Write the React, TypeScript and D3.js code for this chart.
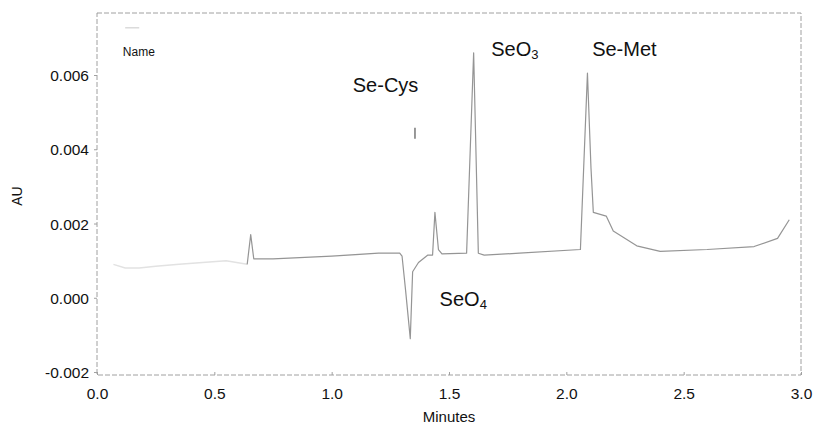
import React, { useEffect, useRef } from 'react';
import * as d3 from 'd3';

// Chromatogram trace (minutes, AU)
const earlyTimes = [0.07, 0.12, 0.18, 0.25, 0.35, 0.45, 0.55, 0.64];
const earlyValues = [0.0009, 0.0008, 0.0008, 0.00085, 0.0009, 0.00095, 0.001, 0.0009];

const traceTimes = [
  0.64, 0.655, 0.668, 0.75, 1.0, 1.2, 1.29, 1.3, 1.315, 1.335, 1.345, 1.37, 1.41, 1.43,
  1.44, 1.455, 1.47, 1.575, 1.605, 1.625, 1.65, 1.8, 2.06, 2.09, 2.105, 2.115, 2.17,
  2.2, 2.3, 2.4, 2.6, 2.8, 2.9, 2.95,
];
const traceValues = [
  0.0009, 0.0017, 0.00105, 0.00105, 0.00112, 0.0012, 0.0012, 0.00112, 0.0002, -0.0011,
  0.0007, 0.00095, 0.00115, 0.00115, 0.0023, 0.0013, 0.00118, 0.0012, 0.0066, 0.0012,
  0.00115, 0.0012, 0.0013, 0.00605, 0.0035, 0.0023, 0.0022, 0.0018, 0.0014, 0.00125,
  0.0013, 0.00138, 0.0016, 0.0021,
];

// small truncated mark above the Se-Cys position
const cysMarkTimes = [1.355, 1.355];
const cysMarkValues = [0.00428, 0.00458];

const xTicks = [0.0, 0.5, 1.0, 1.5, 2.0, 2.5, 3.0];
const yTicks = [-0.002, 0.0, 0.002, 0.004, 0.006];

// peak labels: [text, subscript, minutes, AU]
const peakLabels: [string, string, number, number][] = [
  ['Se-Cys', '', 1.09, 0.00555],
  ['SeO', '3', 1.68, 0.00652],
  ['Se-Met', '', 2.11, 0.00652],
  ['SeO', '4', 1.46, -0.00023],
];

const App = () => {
  const ref = useRef<SVGSVGElement>(null);

  useEffect(() => {
    const width = 813;
    const height = 426;
    const margin = { top: 13, right: 12, bottom: 51, left: 97 };
    const w = width - margin.left - margin.right;
    const h = height - margin.top - margin.bottom;

    const svg = d3.select(ref.current);
    svg.selectAll('*').remove();

    const g = svg.append('g').attr('transform', `translate(${margin.left},${margin.top})`);

    const x = d3.scaleLinear().domain([0, 3]).range([0, w]);
    const y = d3.scaleLinear().domain([-0.00208, 0.00767]).range([h, 0]);

    const frameColor = '#a0a0a0';
    const font = 'Liberation Sans, Arial, sans-serif';

    // frame (scanned, dashed look)
    g.append('rect')
      .attr('x', 0)
      .attr('y', 0)
      .attr('width', w)
      .attr('height', h)
      .attr('fill', 'none')
      .attr('stroke', frameColor)
      .attr('stroke-width', 1)
      .attr('stroke-dasharray', '5,2');

    // axes
    const fmtY = (d: number) => d3.format('.3f')(d).replace('\u2212', '-');
    const yAxis = g.append('g')
      .call(d3.axisLeft(y).tickValues(yTicks).tickFormat(fmtY as any).tickSize(3));
    const xAxis = g.append('g')
      .attr('transform', `translate(0,${h})`)
      .call(d3.axisBottom(x).tickValues(xTicks).tickFormat(d3.format('.1f') as any).tickSize(-3));

    [xAxis, yAxis].forEach(a => {
      a.select('.domain').remove();
      a.selectAll('line').attr('stroke', frameColor);
      a.selectAll('text')
        .attr('fill', '#111')
        .style('font-family', font)
        .style('font-size', '15.5px');
    });
    yAxis.selectAll('text').attr('x', -8).attr('dy', '0.36em');
    xAxis.selectAll('text').attr('y', 13).attr('dy', '0.71em');

    // axis titles
    g.append('text')
      .attr('transform', `translate(${-80},${h / 2 + 2}) rotate(-90)`)
      .attr('text-anchor', 'middle')
      .attr('dy', '0.35em')
      .style('font-family', font)
      .style('font-size', '14px')
      .attr('fill', '#111')
      .text('AU');

    g.append('text')
      .attr('x', w / 2)
      .attr('y', h + 47)
      .attr('text-anchor', 'middle')
      .style('font-family', font)
      .style('font-size', '15px')
      .attr('fill', '#111')
      .text('Minutes');

    // legend stub
    g.append('line')
      .attr('x1', x(0.12))
      .attr('x2', x(0.18))
      .attr('y1', y(0.00727))
      .attr('y2', y(0.00727))
      .attr('stroke', '#c8c8c8')
      .attr('stroke-width', 1);

    g.append('text')
      .attr('x', x(0.11))
      .attr('y', y(0.00652))
      .style('font-family', font)
      .style('font-size', '12px')
      .attr('fill', '#111')
      .text('Name');

    const line = d3.line<[number, number]>()
      .x(d => x(d[0]))
      .y(d => y(d[1]));

    // faint early part of the trace
    g.append('path')
      .datum(d3.zip(earlyTimes, earlyValues) as [number, number][])
      .attr('fill', 'none')
      .attr('stroke', '#e2e2e2')
      .attr('stroke-width', 1.5)
      .attr('d', line);

    // main trace
    g.append('path')
      .datum(d3.zip(traceTimes, traceValues) as [number, number][])
      .attr('fill', 'none')
      .attr('stroke', '#959595')
      .attr('stroke-width', 1.2)
      .attr('stroke-linejoin', 'round')
      .attr('d', line);

    g.append('path')
      .datum(d3.zip(cysMarkTimes, cysMarkValues) as [number, number][])
      .attr('fill', 'none')
      .attr('stroke', '#777')
      .attr('stroke-width', 1.5)
      .attr('d', line);

    // peak labels
    peakLabels.forEach(([label, sub, t, v]) => {
      const txt = g.append('text')
        .attr('x', x(t))
        .attr('y', y(v))
        .style('font-family', font)
        .style('font-size', '20px')
        .attr('fill', '#111');
      txt.append('tspan').text(label);
      if (sub) {
        txt.append('tspan')
          .attr('dy', 3)
          .style('font-size', '13px')
          .text(sub);
      }
    });
  }, []);

  return (
    <svg
      ref={ref}
      width={813}
      height={426}
      style={{ position: 'absolute', left: 0, top: 0, background: '#fff' }}
    />
  );
};

export default App;
